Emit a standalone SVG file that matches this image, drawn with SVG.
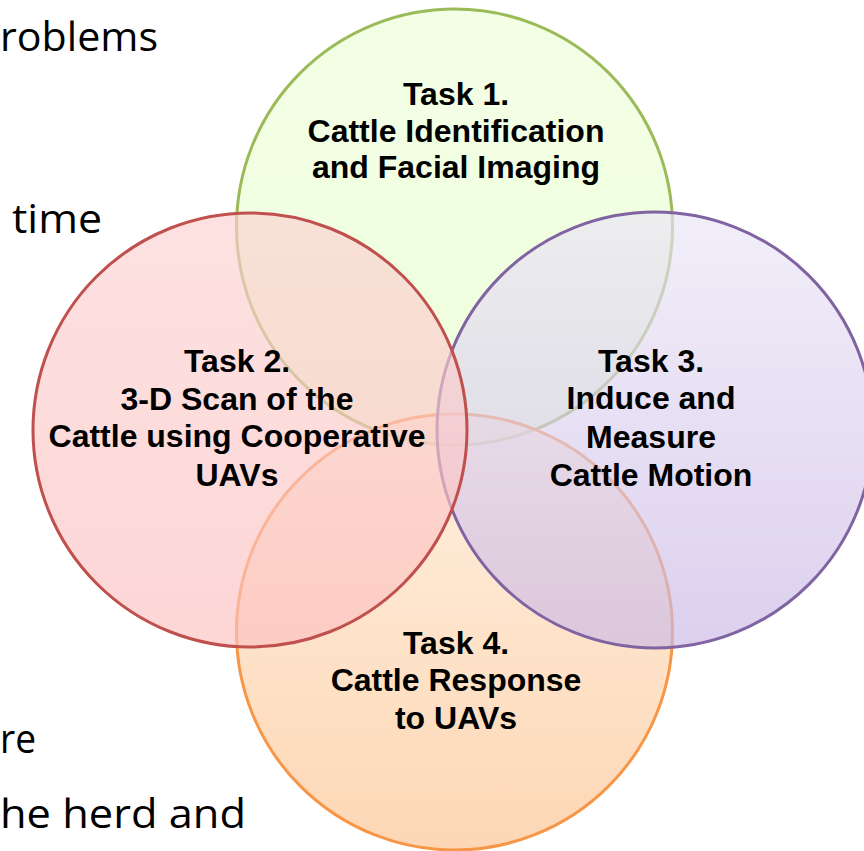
<svg xmlns="http://www.w3.org/2000/svg" width="864" height="851" viewBox="0 0 864 851">
<defs>
<linearGradient id="gGreen" x1="0" y1="0" x2="0" y2="1"><stop offset="0" stop-color="#edffd8"/><stop offset="1" stop-color="#e5fdca"/></linearGradient>
<linearGradient id="gRed" x1="0" y1="0" x2="0" y2="1"><stop offset="0" stop-color="#fcd1d1"/><stop offset="1" stop-color="#fcc0c0"/></linearGradient>
<linearGradient id="gPurple" x1="0" y1="0" x2="0" y2="1"><stop offset="0" stop-color="#ebe5f6"/><stop offset="1" stop-color="#c9b7e5"/></linearGradient>
<linearGradient id="gOrange" x1="0" y1="0" x2="0" y2="1"><stop offset="0" stop-color="#ffe8cf"/><stop offset="1" stop-color="#fcc18d"/></linearGradient>
</defs>
<style>
.bg{font-family:"Open Sans","Liberation Sans",sans-serif;font-size:41px;fill:#000}
.c{fill-opacity:0.65;stroke-width:3}
.t{font-family:"Liberation Sans",Arial,sans-serif;font-weight:bold;font-size:32px;fill:#000;text-anchor:middle}
</style>
<g id="background-text">
<text class="bg" x="0" y="51" textLength="158" lengthAdjust="spacingAndGlyphs">roblems</text>
<text class="bg" x="12" y="233" textLength="90" lengthAdjust="spacingAndGlyphs">time</text>
<text class="bg" x="0" y="753" textLength="36" lengthAdjust="spacingAndGlyphs">re</text>
<text class="bg" x="0" y="828" textLength="246" lengthAdjust="spacingAndGlyphs">he herd and</text>
</g>
<g id="connectors"/>
<g id="task1">
<circle class="c" cx="454.5" cy="227" r="218" fill="url(#gGreen)" stroke="#9bbb59"/>
</g>
<g id="task4">
<circle class="c" cx="454.5" cy="632" r="218" fill="url(#gOrange)" stroke="#f79646"/>
</g>
<g id="task3">
<circle class="c" cx="655" cy="430" r="218" fill="url(#gPurple)" stroke="#8064a2"/>
</g>
<g id="task2">
<circle class="c" cx="250" cy="430" r="217" fill="url(#gRed)" stroke="#c0504d"/>
</g>
<g id="labels">
<text class="t" x="456" y="105">Task 1.</text>
<text class="t" x="456" y="142">Cattle Identification</text>
<text class="t" x="456" y="178">and Facial Imaging</text>
<text class="t" x="237" y="372">Task 2.</text>
<text class="t" x="237" y="410">3-D Scan of the</text>
<text class="t" x="237" y="447">Cattle using Cooperative</text>
<text class="t" x="237" y="486">UAVs</text>
<text class="t" x="651" y="372">Task 3.</text>
<text class="t" x="651" y="409">Induce and</text>
<text class="t" x="651" y="448">Measure</text>
<text class="t" x="651" y="486">Cattle Motion</text>
<text class="t" x="456" y="654">Task 4.</text>
<text class="t" x="456" y="691">Cattle Response</text>
<text class="t" x="456" y="729">to UAVs</text>
</g>
</svg>
